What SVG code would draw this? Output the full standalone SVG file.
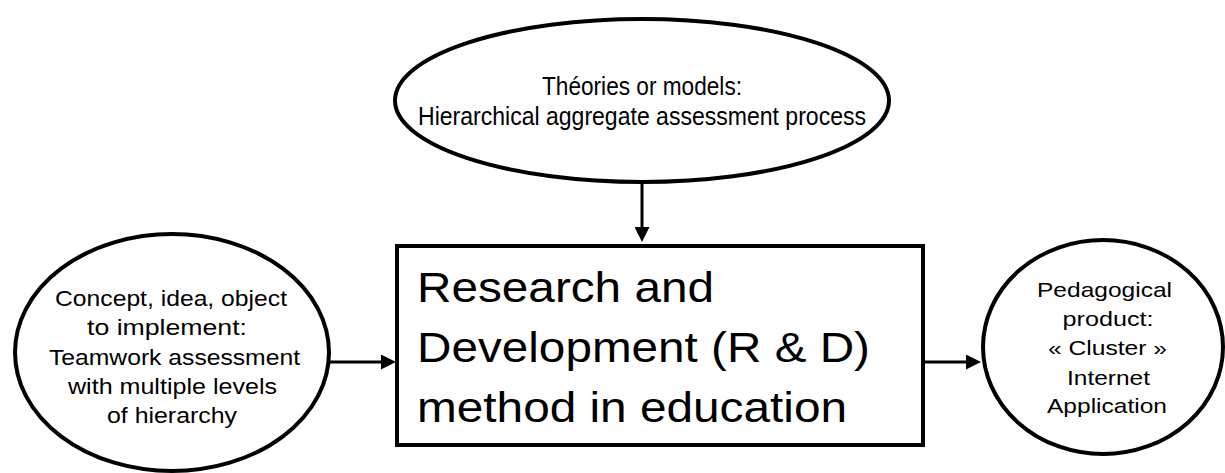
<svg xmlns="http://www.w3.org/2000/svg" width="1225" height="473" viewBox="0 0 1225 473">
<defs>
<style>
.shape{fill:#fff;stroke:#000;stroke-width:4}
.conn{stroke:#000;stroke-width:3;fill:none}
.t{font-family:"Liberation Sans",Arial,sans-serif;fill:#000;font-size:21px;text-anchor:middle}
.big{font-family:"Liberation Sans",Arial,sans-serif;fill:#000;font-size:43px}
</style>
<marker id="ah" markerUnits="userSpaceOnUse" markerWidth="16" markerHeight="15" refX="7" refY="7.5" orient="auto">
<path d="M0,0 L15,7.5 L0,15 z" fill="#000"/>
</marker>
</defs>
<rect width="1225" height="473" fill="#fff"/>
<g id="connectors">
<line class="conn" x1="642" y1="183" x2="642" y2="234" marker-end="url(#ah)"/>
<line class="conn" x1="330" y1="362" x2="388" y2="362" marker-end="url(#ah)"/>
<line class="conn" x1="925" y1="362" x2="973" y2="362" marker-end="url(#ah)"/>
</g>
<g id="theories">
<ellipse class="shape" cx="642" cy="100.5" rx="247" ry="81.5"/>
<text class="t" style="font-size:26px" x="642" y="95" textLength="200" lengthAdjust="spacingAndGlyphs">Théories or models:</text>
<text class="t" style="font-size:26px" x="642" y="125" textLength="448" lengthAdjust="spacingAndGlyphs">Hierarchical aggregate assessment process</text>
</g>
<g id="rd">
<rect class="shape" x="397" y="246" width="526" height="199"/>
<text class="big" x="417" y="302" textLength="297" lengthAdjust="spacingAndGlyphs">Research and</text>
<text class="big" x="417" y="362" textLength="453" lengthAdjust="spacingAndGlyphs">Development (R &amp; D)</text>
<text class="big" x="417" y="422" textLength="430" lengthAdjust="spacingAndGlyphs">method in education</text>
</g>
<g id="concept">
<ellipse class="shape" cx="172" cy="352.5" rx="157" ry="118.5"/>
<text class="t" style="font-size:22px" x="171" y="306" textLength="232" lengthAdjust="spacingAndGlyphs">Concept, idea, object</text>
<text class="t" style="font-size:22px" x="167" y="335" textLength="160" lengthAdjust="spacingAndGlyphs">to implement:</text>
<text class="t" style="font-size:22px" x="174.5" y="365" textLength="251" lengthAdjust="spacingAndGlyphs">Teamwork assessment</text>
<text class="t" style="font-size:22px" x="172.5" y="394" textLength="209" lengthAdjust="spacingAndGlyphs">with multiple levels</text>
<text class="t" style="font-size:22px" x="172" y="423" textLength="130" lengthAdjust="spacingAndGlyphs">of hierarchy</text>
</g>
<g id="product">
<ellipse class="shape" cx="1103" cy="347" rx="120" ry="107"/>
<text class="t" x="1104.5" y="297" textLength="135" lengthAdjust="spacingAndGlyphs">Pedagogical</text>
<text class="t" x="1108" y="326" textLength="91" lengthAdjust="spacingAndGlyphs">product:</text>
<text class="t" x="1107.5" y="355" textLength="119" lengthAdjust="spacingAndGlyphs">« Cluster »</text>
<text class="t" x="1108.5" y="385" textLength="83" lengthAdjust="spacingAndGlyphs">Internet</text>
<text class="t" x="1107" y="413" textLength="120" lengthAdjust="spacingAndGlyphs">Application</text>
</g>
</svg>
